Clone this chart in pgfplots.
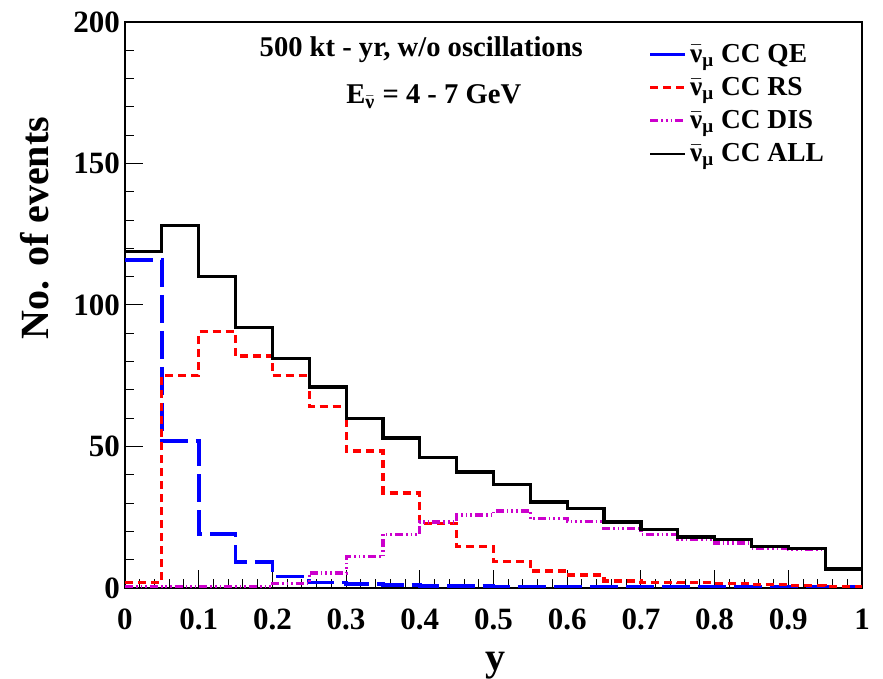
\documentclass[border=0pt]{standalone}
\usepackage{fontspec}
\setmainfont{Liberation Serif}
\usepackage{amsmath}
\usepackage{pgfplots}
\pgfplotsset{compat=1.18}
\definecolor{rootblue}{rgb}{0,0,1}
\definecolor{rootred}{rgb}{1,0,0}
\definecolor{rootmag}{rgb}{0.8,0,0.8}
\begin{document}
\begin{tikzpicture}
\begin{axis}[
  scale only axis,
  width=368.5pt, height=283pt,
  xmin=0, xmax=1, ymin=0, ymax=200,
  xtick={0,0.1,...,1.01},
  xticklabels={0,0.1,0.2,0.3,0.4,0.5,0.6,0.7,0.8,0.9,1},
  ytick={0,50,100,150,200},
  minor x tick num=4, minor y tick num=4,
  tick align=inside,
  xtick pos=bottom, ytick pos=left,
  major tick length=9pt, minor tick length=4.5pt,
  axis line style={line width=0.8pt},
  every tick/.style={black, line width=0.5pt},
  /pgf/number format/assume math mode=true,
  tick label style={font=\bfseries\fontsize{15.5}{17}\selectfont},
  xticklabel style={yshift=-7pt},
  yticklabel style={xshift=1pt},
  ylabel={No. of events},
  xlabel={y},
  ylabel style={font=\bfseries\fontsize{20}{24}\selectfont, at={(axis description cs:-0.122,0.636)}, anchor=center, rotate=0},
  xlabel style={font=\bfseries\fontsize{20}{24}\selectfont, at={(axis description cs:0.503,-0.138)}, anchor=center},
  legend style={at={(rel axis cs:0.702,0.976)}, anchor=north west, draw=none, fill=none,
    font=\bfseries\fontsize{13.7}{15}\selectfont, row sep=2pt, cells={anchor=west}},
  clip=false,
]
% QE
\addplot[rootblue, line width=1.8pt, dash pattern=on 14pt off 4pt, const plot mark left, forget plot] coordinates {
(0,116)(0.05,52)(0.1,19)(0.15,9.2)(0.2,4)(0.25,2)(0.3,1.5)(0.35,1)(0.4,0.8)(0.45,0.7)
(0.5,0.6)(0.55,0.5)(0.6,0.5)(0.65,0.5)(0.7,0.5)(0.75,0.5)(0.8,0.5)(0.85,0.5)(0.9,0.5)(0.95,0.5)(1,0.5)};
% RS
\addplot[rootred, line width=1.6pt, dash pattern=on 4pt off 2.5pt, const plot mark left, forget plot] coordinates {
(0,2)(0.05,75)(0.1,90.5)(0.15,82)(0.2,75)(0.25,64)(0.3,48.4)(0.35,33.6)(0.4,22.7)(0.45,14.8)
(0.5,9.5)(0.55,6)(0.6,4.6)(0.65,2.5)(0.7,2)(0.75,1.9)(0.8,1.5)(0.85,1.2)(0.9,1)(0.95,0.6)(1,0.6)};
% DIS
\addplot[rootmag, line width=1.6pt, dash pattern=on 4pt off 1.5pt on 0.8pt off 1.5pt on 0.8pt off 1.5pt on 0.8pt off 1.5pt, const plot mark left, forget plot] coordinates {
(0,0.5)(0.05,0.5)(0.1,0.5)(0.15,0.5)(0.2,1.5)(0.25,5.3)(0.3,11)(0.35,19)(0.4,23.3)(0.45,25.8)
(0.5,27.2)(0.55,24.5)(0.6,23.5)(0.65,21)(0.7,19)(0.75,17)(0.8,15.9)(0.85,14.1)(0.9,13.8)(0.95,6.7)(1,6.7)};
% ALL
\addplot[black, line width=1.6pt, const plot mark left, forget plot] coordinates {
(0,119)(0.05,128)(0.1,110)(0.15,92)(0.2,81)(0.25,71)(0.3,60)(0.35,53)(0.4,46)(0.45,41)
(0.5,36.7)(0.55,30.4)(0.6,28)(0.65,23.3)(0.7,20.8)(0.75,18)(0.8,17)(0.85,14.8)(0.9,14)(0.95,6.7)(1,6.7)};
\addlegendimage{rootblue, line width=1.6pt}
\addlegendentry{$\bar{\text{ν}}_{\text{μ}}$ CC QE}
\addlegendimage{rootred, line width=1.6pt, dash pattern=on 4pt off 2.5pt}
\addlegendentry{$\bar{\text{ν}}_{\text{μ}}$ CC RS}
\addlegendimage{rootmag, line width=1.6pt, dash pattern=on 4pt off 1.5pt on 0.8pt off 1.5pt on 0.8pt off 1.5pt on 0.8pt off 1.5pt}
\addlegendentry{$\bar{\text{ν}}_{\text{μ}}$ CC DIS}
\addlegendimage{black, line width=1.2pt}
\addlegendentry{$\bar{\text{ν}}_{\text{μ}}$ CC ALL}
\node[font=\bfseries\fontsize{14.3}{17}\selectfont, anchor=center] at (rel axis cs:0.402,0.952) {500 kt - yr, w/o oscillations};
\node[font=\bfseries\fontsize{14.3}{17}\selectfont, anchor=center] at (rel axis cs:0.419,0.868) {E$_{\bar{\text{ν}}}$ = 4 - 7 GeV};
\end{axis}
\pgfresetboundingbox
\path ([shift={(-62.5pt,-45.5pt)}]current axis.south west) rectangle ([shift={(10.5pt,11pt)}]current axis.north east);
\end{tikzpicture}
\end{document}
